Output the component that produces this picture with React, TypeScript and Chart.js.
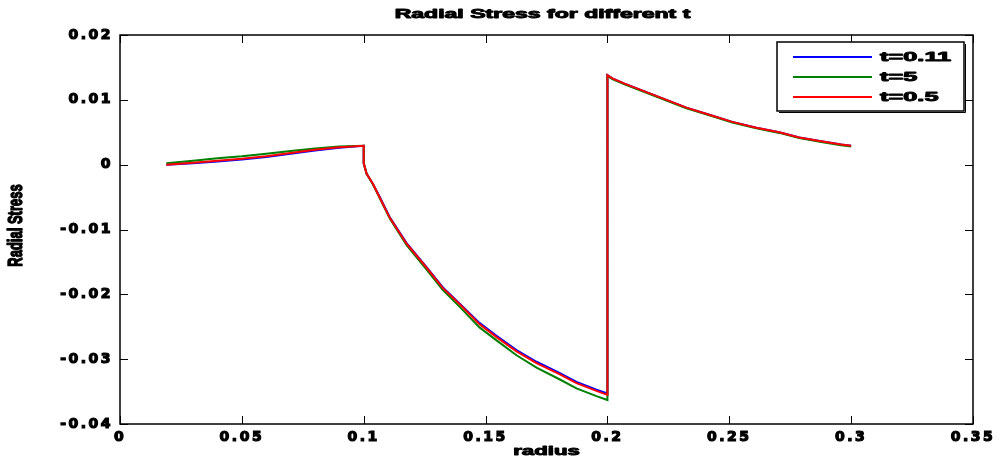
import React, { useEffect, useRef } from 'react';
import { Chart, registerables } from 'chart.js';

Chart.register(...registerables);

// ---- data ----
const radius = [
  0.019, 0.03, 0.04, 0.05, 0.06, 0.07, 0.08, 0.09, 0.1,
  0.1, 0.1012, 0.1037, 0.1066, 0.1107, 0.1176, 0.1258, 0.1324, 0.1393, 0.1475, 0.1545, 0.1627, 0.1709, 0.1803, 0.1873, 0.1955, 0.2,
  0.2, 0.202, 0.207, 0.2152, 0.2242, 0.2324, 0.2418, 0.2512, 0.2611, 0.2705, 0.2787, 0.2877, 0.2959, 0.3,
];

const stressT011 = [
  0.0, 0.0002, 0.0005, 0.0008, 0.0012, 0.0017, 0.0022, 0.0026, 0.0029,
  0.0002, -0.0014, -0.0029, -0.005, -0.0081, -0.0121, -0.0158, -0.0189, -0.0214, -0.0244, -0.0264, -0.0286, -0.0304, -0.0321, -0.0335, -0.0347, -0.0353,
  0.0138, 0.0133, 0.0125, 0.0113, 0.01, 0.0088, 0.0077, 0.0066, 0.0057, 0.005, 0.0042, 0.0036, 0.0031, 0.0029,
];

const stressT5 = [
  0.0002, 0.0006, 0.001, 0.0013, 0.0017, 0.0021, 0.0025, 0.0028, 0.0029,
  0.0002, -0.0014, -0.003, -0.0052, -0.0083, -0.0124, -0.0162, -0.0193, -0.0219, -0.0251, -0.0271, -0.0294, -0.0313, -0.0331, -0.0345, -0.0357, -0.0363,
  0.0137, 0.0132, 0.0124, 0.0112, 0.0099, 0.0087, 0.0076, 0.0065, 0.0056, 0.0049, 0.0041, 0.0035, 0.003, 0.0028,
];

const stressT05 = [
  0.0, 0.0003, 0.0006, 0.0009, 0.0013, 0.0018, 0.0023, 0.0027, 0.0029,
  0.0002, -0.0014, -0.0029, -0.0051, -0.0082, -0.0122, -0.0159, -0.019, -0.0215, -0.0246, -0.0266, -0.0288, -0.0306, -0.0323, -0.0337, -0.0349, -0.0355,
  0.0138, 0.0133, 0.0125, 0.0113, 0.01, 0.0088, 0.0077, 0.0066, 0.0057, 0.005, 0.0042, 0.0036, 0.0031, 0.0029,
];

const seriesLabels = ['t=0.11', 't=5', 't=0.5'];
const seriesColors = ['#0000ff', '#008000', '#ff0000'];

const xTickValues = [0, 0.05, 0.1, 0.15, 0.2, 0.25, 0.3, 0.35];
const xTickLabels = ['0', '0.05', '0.1', '0.15', '0.2', '0.25', '0.3', '0.35'];
const yTickValues = [-0.04, -0.03, -0.02, -0.01, 0, 0.01, 0.02];
const yTickLabels = ['-0.04', '-0.03', '-0.02', '-0.01', '0', '0.01', '0.02'];

const chartTitle = 'Radial Stress for different t';
const xAxisTitle = 'radius';
const yAxisTitle = 'Radial Stress';

// ---- helpers ----
const TICK_SPACING = '2.5px';
const TEXT_FONT = 'bold 12px "Liberation Sans", Arial, sans-serif';

function drawStretched(ctx: any, text: string, x: number, y: number, font: string, sx: number, align: string, rotate = 0, sy = 1) {
  ctx.save();
  ctx.letterSpacing = '0px';
  ctx.font = font;
  ctx.fillStyle = '#000';
  ctx.strokeStyle = '#000';
  ctx.lineWidth = 0.9;
  ctx.lineJoin = 'round';
  ctx.textAlign = align;
  ctx.textBaseline = 'middle';
  ctx.translate(x, y);
  if (rotate) ctx.rotate(rotate);
  ctx.scale(sx, sy);
  ctx.strokeText(text, 0, 0);
  ctx.fillText(text, 0, 0);
  ctx.restore();
}

const spacingPlugin = {
  id: 'spacing',
  beforeUpdate(chart: any) {
    chart.ctx.letterSpacing = TICK_SPACING;
  },
  beforeDraw(chart: any) {
    chart.ctx.letterSpacing = TICK_SPACING;
  },
};

const framePlugin = {
  id: 'frame',
  afterDatasetsDraw(chart: any) {
    const { ctx, chartArea, scales } = chart;
    const left = Math.round(chartArea.left);
    const right = Math.round(chartArea.right);
    const top = Math.round(chartArea.top);
    const bottom = Math.round(chartArea.bottom);
    ctx.save();
    ctx.letterSpacing = '0px';
    ctx.strokeStyle = '#000';
    ctx.lineWidth = 1.5;
    ctx.strokeRect(left, top, right - left, bottom - top);
    const tl = 8;
    ctx.beginPath();
    xTickValues.forEach((v) => {
      const px = Math.round(scales.x.getPixelForValue(v)) + 0.5;
      ctx.moveTo(px, bottom);
      ctx.lineTo(px, bottom - tl);
      ctx.moveTo(px, top);
      ctx.lineTo(px, top + tl);
    });
    yTickValues.forEach((v) => {
      const py = Math.round(scales.y.getPixelForValue(v)) + 0.5;
      ctx.moveTo(left, py);
      ctx.lineTo(left + tl, py);
      ctx.moveTo(right, py);
      ctx.lineTo(right - tl, py);
    });
    ctx.lineWidth = 1;
    ctx.stroke();
    ctx.restore();
  },
  afterDraw(chart: any) {
    const { ctx, chartArea } = chart;
    const cx = (chartArea.left + chartArea.right) / 2;
    const cy = (chartArea.top + chartArea.bottom) / 2;
    // title
    drawStretched(ctx, chartTitle, cx - 4, 15, TEXT_FONT, 1.92, 'center');
    // x title
    drawStretched(ctx, xAxisTitle, cx, 452, TEXT_FONT, 1.85, 'center');
    // y title (rotated)
    drawStretched(ctx, yAxisTitle, 16, cy - 4, 'bold 13px "Liberation Sans", Arial, sans-serif', 1, 'center', -Math.PI / 2, 1.6);

    // legend
    const bx = Math.round(chartArea.right) - 196;
    const by = Math.round(chartArea.top) + 7;
    const bw = 187;
    const bh = 69;
    ctx.save();
    ctx.letterSpacing = '0px';
    ctx.fillStyle = '#fff';
    ctx.fillRect(bx, by, bw, bh);
    ctx.strokeStyle = '#000';
    ctx.lineWidth = 1.5;
    ctx.strokeRect(bx, by, bw, bh);
    ctx.lineWidth = 1;
    ctx.beginPath();
    ctx.moveTo(bx + bw + 1.5, by + 2);
    ctx.lineTo(bx + bw + 1.5, by + bh + 1.5);
    ctx.lineTo(bx + 2, by + bh + 1.5);
    ctx.stroke();
    seriesLabels.forEach((label, i) => {
      const ly = by + 15 + i * 20;
      ctx.strokeStyle = seriesColors[i];
      ctx.lineWidth = 2;
      ctx.beginPath();
      ctx.moveTo(bx + 16, ly);
      ctx.lineTo(bx + 95, ly);
      ctx.stroke();
    });
    ctx.restore();
    seriesLabels.forEach((label, i) => {
      const ly = by + 15 + i * 20;
      drawStretched(ctx, label, bx + 103, ly, 'bold 13px "Liberation Sans", Arial, sans-serif', 1.95, 'left');
    });
  },
};

export default function App() {
  const canvasRef = useRef<HTMLCanvasElement | null>(null);

  useEffect(() => {
    const canvas = canvasRef.current;
    if (!canvas) return;
    const series = [stressT011, stressT5, stressT05];
    const tickFont = { family: '"DejaVu Sans", sans-serif', size: 14, weight: 'bold' as const };
    const chart = new Chart(canvas, {
      type: 'line',
      data: {
        datasets: series.map((vals, i) => ({
          label: seriesLabels[i],
          data: radius.map((r, j) => ({ x: r, y: vals[j] })),
          borderColor: seriesColors[i],
          backgroundColor: seriesColors[i],
          borderWidth: 2,
          pointRadius: 0,
          tension: 0,
          fill: false,
          order: 2 - i,
        })),
      },
      options: {
        responsive: false,
        animation: false,
        devicePixelRatio: 1,
        layout: { padding: { left: 0, right: 30, top: 35, bottom: 0 } },
        plugins: {
          legend: { display: false },
          title: { display: false },
          tooltip: { enabled: false },
        },
        scales: {
          x: {
            type: 'linear',
            min: 0,
            max: 0.35,
            afterBuildTicks: (scale: any) => {
              scale.ticks = xTickValues.map((v) => ({ value: v }));
            },
            afterFit: (scale: any) => {
              scale.height = 38;
            },
            grid: { display: false, drawTicks: false },
            border: { display: false },
            ticks: {
              color: '#000',
              textStrokeColor: '#000',
              textStrokeWidth: 1.2,
              font: tickFont,
              padding: 5,
              maxRotation: 0,
              autoSkip: false,
              callback: (v: any) => {
                const idx = xTickValues.findIndex((t) => Math.abs(t - Number(v)) < 1e-9);
                return idx >= 0 ? xTickLabels[idx] : '';
              },
            },
          },
          y: {
            type: 'linear',
            min: -0.04,
            max: 0.02,
            afterBuildTicks: (scale: any) => {
              scale.ticks = yTickValues.map((v) => ({ value: v }));
            },
            afterFit: (scale: any) => {
              scale.width = 120;
            },
            grid: { display: false, drawTicks: false },
            border: { display: false },
            ticks: {
              color: '#000',
              textStrokeColor: '#000',
              textStrokeWidth: 1.2,
              font: tickFont,
              padding: 7,
              autoSkip: false,
              callback: (v: any) => {
                const idx = yTickValues.findIndex((t) => Math.abs(t - Number(v)) < 1e-9);
                return idx >= 0 ? yTickLabels[idx] : '';
              },
            },
          },
        },
      },
      plugins: [spacingPlugin, framePlugin],
    } as any);
    return () => chart.destroy();
  }, []);

  return (
    <div style={{ position: 'absolute', left: 0, top: 0, width: 1003, height: 462, background: '#fff' }}>
      <canvas ref={canvasRef} width={1003} height={462} style={{ display: 'block' }} />
    </div>
  );
}
